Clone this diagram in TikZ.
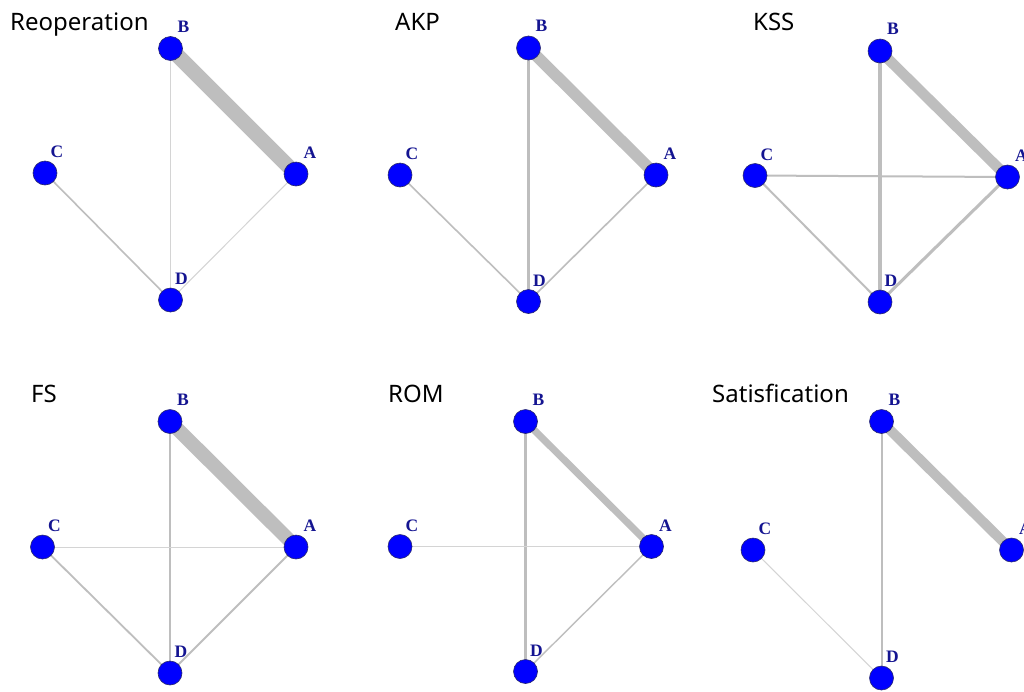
\documentclass[tikz,border=0pt]{standalone}
\usepackage{fontspec}
\setmainfont{Liberation Serif}
\newfontfamily\titlefont{Noto Sans}
\usetikzlibrary{calc}
\pgfdeclarelayer{paper}
\pgfdeclarelayer{edges}
\pgfsetlayers{paper,edges,main}

\definecolor{vblue}{RGB}{0,0,255}
\definecolor{vrim}{RGB}{40,40,110}
\definecolor{lblue}{RGB}{20,20,145}
\definecolor{egray}{RGB}{190,190,190}
\definecolor{elight}{RGB}{212,212,212}

\tikzset{
  vertex/.style={circle, fill=vblue, draw=vrim, line width=0.6pt,
                 minimum size=24pt, inner sep=0pt},
  vlabel/.style={font=\fontsize{17.5}{17.5}\selectfont\bfseries, text=lblue,
                 inner sep=0pt, anchor=center},
  ptitle/.style={font=\titlefont\fontsize{24}{28}\selectfont, anchor=base west,
                 inner sep=0pt, text=black},
  edge/.style={draw=egray, line cap=butt},
  faint/.style={draw=elight, line width=1pt},
}

% four vertices A, B, C, D of one network, with their letters
% #1 prefix, then x/y of A, B, C, D
\newcommand{\fourvertices}[9]{%
  \node[vertex] (#1A) at (#2,#3) {};
  \node[vertex] (#1B) at (#4,#5) {};
  \node[vertex] (#1C) at (#6,#7) {};
  \node[vertex] (#1D) at (#8,#9) {};
  \node[vlabel] (#1lA) at ($(#1A)+(14,-21)$) {A};
  \node[vlabel] (#1lB) at ($(#1B)+(13,-22)$) {B};
  \node[vlabel] (#1lC) at ($(#1C)+(12,-21)$) {C};
  \node[vlabel] (#1lD) at ($(#1D)+(11,-21)$) {D};
}

\begin{document}
\begin{tikzpicture}[x=1pt, y=-1pt]
\begin{pgfonlayer}{paper}
  \fill[white] (0,0) rectangle (1024,691);
\end{pgfonlayer}
\useasboundingbox (0,0) rectangle (1024,691);

% ---- Reoperation
\node[ptitle] (t1) at (10,30.5) {Reoperation};
\fourvertices{r}{296}{174}{170.5}{48.5}{45}{173}{170.5}{300}
\begin{pgfonlayer}{edges}
  \draw[edge, line width=15pt] (rB.center) -- (rA.center);
  \draw[faint] (rB.center) -- (rD.center);
  \draw[edge, line width=1.6pt] (rC.center) -- (rD.center);
  \draw[faint] (rA.center) -- (rD.center);
\end{pgfonlayer}

% ---- AKP
\node[ptitle] (t2) at (395,30.5) {AKP};
\fourvertices{k}{656}{175}{528.5}{48}{400}{175}{528.5}{301.5}
\begin{pgfonlayer}{edges}
  \draw[edge, line width=11.5pt] (kB.center) -- (kA.center);
  \draw[edge, line width=2.4pt] (kB.center) -- (kD.center);
  \draw[edge, line width=1.6pt] (kC.center) -- (kD.center);
  \draw[edge, line width=1.6pt] (kA.center) -- (kD.center);
\end{pgfonlayer}

% ---- KSS
\node[ptitle] (t3) at (753,30.5) {KSS};
\fourvertices{s}{1007.5}{177}{880}{51}{755}{175.5}{880}{302}
\begin{pgfonlayer}{edges}
  \draw[edge, line width=10.5pt] (sB.center) -- (sA.center);
  \draw[edge, line width=3.4pt] (sB.center) -- (sD.center);
  \draw[edge, line width=2pt] (sC.center) -- (sA.center);
  \draw[edge, line width=2pt] (sC.center) -- (sD.center);
  \draw[edge, line width=3pt] (sA.center) -- (sD.center);
\end{pgfonlayer}

% ---- FS
\node[ptitle] (t4) at (31,402) {FS};
\fourvertices{f}{296}{547}{170}{421.5}{42.5}{547}{170}{673}
\begin{pgfonlayer}{edges}
  \draw[edge, line width=14pt] (fB.center) -- (fA.center);
  \draw[edge, line width=2.6pt] (fB.center) -- (fD.center);
  \draw[faint] (fC.center) -- (fA.center);
  \draw[edge, line width=1.8pt] (fC.center) -- (fD.center);
  \draw[edge, line width=1.8pt] (fA.center) -- (fD.center);
\end{pgfonlayer}

% ---- ROM
\node[ptitle] (t5) at (388,402) {ROM};
\fourvertices{m}{651.5}{546.5}{525.5}{421.5}{400}{546.5}{525.5}{671.5}
\begin{pgfonlayer}{edges}
  \draw[edge, line width=7pt] (mB.center) -- (mA.center);
  \draw[edge, line width=3.4pt] (mB.center) -- (mD.center);
  \draw[faint] (mC.center) -- (mA.center);
  \draw[edge, line width=1.4pt] (mA.center) -- (mD.center);
\end{pgfonlayer}

% ---- Satisfication
\node[ptitle] (t6) at (712,402) {Satisfication};
\fourvertices{v}{1011.5}{550}{881.5}{421.5}{753}{550}{881.5}{678}
\begin{pgfonlayer}{edges}
  \draw[edge, line width=10pt] (vB.center) -- (vA.center);
  \draw[edge, line width=2pt] (vB.center) -- (vD.center);
  \draw[faint] (vC.center) -- (vD.center);
\end{pgfonlayer}
\end{tikzpicture}
\end{document}
